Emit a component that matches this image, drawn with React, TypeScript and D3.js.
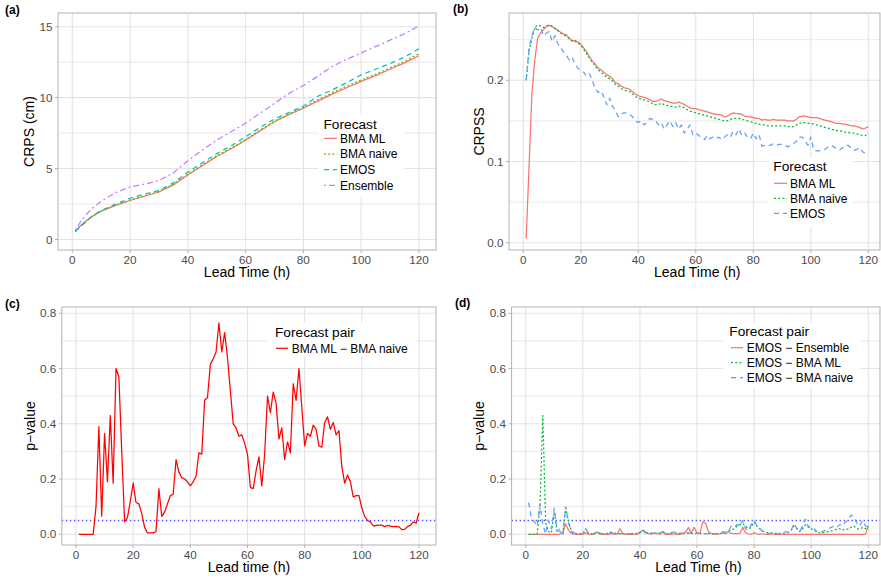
import * as React from 'react';
import * as d3 from 'd3';

// lead times (hours)
const hours = d3.range(1, 121);
const hoursA = [1, 2, 3, 5, 7, 10, 15, 20, 25, 30, 35, 40, 45, 50, 55, 60, 65, 70, 75, 80, 85, 90, 95, 100, 105, 110, 115, 120];

// (a) CRPS (cm)
const crpsBmaMl = [0.6, 0.8, 1.0, 1.35, 1.65, 2.0, 2.4, 2.75, 3.05, 3.35, 3.85, 4.55, 5.2, 5.85, 6.4, 7.0, 7.65, 8.3, 8.8, 9.25, 9.75, 10.25, 10.7, 11.15, 11.55, 12.0, 12.45, 12.95];
const crpsBmaNaive = [0.55, 0.75, 0.95, 1.3, 1.65, 2.0, 2.42, 2.78, 3.08, 3.38, 3.9, 4.6, 5.25, 5.9, 6.45, 7.05, 7.7, 8.35, 8.85, 9.3, 9.85, 10.35, 10.8, 11.25, 11.65, 12.1, 12.55, 13.1];
const crpsEmos = [0.55, 0.75, 0.95, 1.3, 1.65, 2.05, 2.5, 2.9, 3.2, 3.45, 4.0, 4.75, 5.4, 6.05, 6.6, 7.25, 7.9, 8.5, 8.95, 9.4, 10.1, 10.55, 11.05, 11.6, 12.0, 12.4, 12.85, 13.45];
const crpsEnsemble = [0.65, 0.95, 1.3, 1.8, 2.2, 2.7, 3.3, 3.7, 3.9, 4.15, 4.7, 5.55, 6.3, 7.0, 7.6, 8.2, 8.9, 9.6, 10.3, 10.85, 11.5, 12.2, 12.7, 13.15, 13.6, 14.05, 14.5, 15.05];

// (b) CRPSS
const crpssBmaMl = [
  0.005, 0.094, 0.184, 0.225, 0.252, 0.258, 0.262, 0.266, 0.268, 0.266,
  0.264, 0.262, 0.259, 0.257, 0.256, 0.252, 0.249, 0.249, 0.247, 0.245,
  0.240, 0.235, 0.229, 0.224, 0.220, 0.215, 0.213, 0.210, 0.207, 0.205,
  0.202, 0.197, 0.196, 0.193, 0.191, 0.190, 0.189, 0.186, 0.183, 0.181,
  0.180, 0.179, 0.178, 0.176, 0.174, 0.174, 0.175, 0.177, 0.175, 0.174,
  0.173, 0.172, 0.172, 0.173, 0.172, 0.170, 0.168, 0.166, 0.165, 0.165,
  0.164, 0.163, 0.162, 0.161, 0.160, 0.159, 0.158, 0.158, 0.157, 0.155,
  0.156, 0.158, 0.160, 0.159, 0.159, 0.158, 0.156, 0.155, 0.155, 0.154,
  0.153, 0.153, 0.151, 0.152, 0.151, 0.151, 0.152, 0.151, 0.151, 0.151,
  0.151, 0.150, 0.150, 0.150, 0.152, 0.155, 0.156, 0.156, 0.155, 0.154,
  0.154, 0.154, 0.153, 0.152, 0.151, 0.150, 0.149, 0.148, 0.147, 0.147,
  0.146, 0.146, 0.145, 0.144, 0.144, 0.143, 0.142, 0.140, 0.141, 0.143,
];
const crpssBmaNaive = [
  0.200, 0.235, 0.252, 0.265, 0.268, 0.267, 0.265, 0.267, 0.268, 0.267,
  0.264, 0.261, 0.258, 0.256, 0.254, 0.251, 0.248, 0.248, 0.246, 0.243,
  0.238, 0.233, 0.227, 0.222, 0.218, 0.213, 0.210, 0.207, 0.204, 0.202,
  0.199, 0.195, 0.193, 0.190, 0.188, 0.187, 0.186, 0.183, 0.180, 0.178,
  0.177, 0.176, 0.175, 0.173, 0.171, 0.170, 0.170, 0.172, 0.170, 0.169,
  0.168, 0.168, 0.167, 0.168, 0.168, 0.166, 0.164, 0.162, 0.161, 0.160,
  0.159, 0.158, 0.157, 0.156, 0.155, 0.154, 0.153, 0.152, 0.151, 0.150,
  0.150, 0.152, 0.153, 0.153, 0.153, 0.152, 0.151, 0.150, 0.149, 0.148,
  0.147, 0.146, 0.145, 0.145, 0.144, 0.144, 0.144, 0.144, 0.144, 0.144,
  0.144, 0.143, 0.143, 0.143, 0.145, 0.147, 0.148, 0.148, 0.147, 0.147,
  0.146, 0.145, 0.144, 0.143, 0.142, 0.141, 0.140, 0.139, 0.138, 0.138,
  0.137, 0.136, 0.136, 0.135, 0.135, 0.134, 0.133, 0.132, 0.132, 0.135,
];
const crpssEmos = [
  0.200, 0.240, 0.255, 0.265, 0.262, 0.265, 0.255, 0.258, 0.260, 0.248,
  0.255, 0.245, 0.240, 0.235, 0.230, 0.225, 0.228, 0.220, 0.215, 0.212,
  0.210, 0.205, 0.208, 0.200, 0.190, 0.185, 0.187, 0.180, 0.170, 0.178,
  0.168, 0.163, 0.155, 0.158, 0.160, 0.160, 0.158, 0.155, 0.150, 0.148,
  0.150, 0.145, 0.148, 0.153, 0.152, 0.150, 0.145, 0.148, 0.140, 0.145,
  0.150, 0.143, 0.148, 0.140, 0.145, 0.135, 0.140, 0.145, 0.133, 0.135,
  0.132, 0.130, 0.127, 0.132, 0.128, 0.130, 0.128, 0.130, 0.127, 0.130,
  0.133, 0.130, 0.137, 0.133, 0.140, 0.132, 0.135, 0.130, 0.128, 0.135,
  0.128, 0.133, 0.119, 0.120, 0.120, 0.120, 0.122, 0.120, 0.121, 0.121,
  0.120, 0.118, 0.120, 0.122, 0.125, 0.130, 0.130, 0.125, 0.120, 0.130,
  0.115, 0.113, 0.113, 0.114, 0.115, 0.118, 0.120, 0.118, 0.116, 0.114,
  0.117, 0.120, 0.120, 0.116, 0.114, 0.115, 0.117, 0.112, 0.110, 0.108,
];

// (c) p-values BMA ML - BMA naive
const pMlNaive = [
  0, 0, 0, 0, 0, 0, 0.1, 0.39, 0.065, 0.365,
  0.19, 0.43, 0.185, 0.60, 0.57, 0.30, 0.045, 0.06, 0.12, 0.185,
  0.115, 0.11, 0.075, 0.025, 0.005, 0.005, 0.005, 0.01, 0.165, 0.065,
  0.08, 0.11, 0.14, 0.145, 0.27, 0.225, 0.205, 0.2, 0.19, 0.175,
  0.19, 0.21, 0.295, 0.29, 0.485, 0.495, 0.615, 0.635, 0.66, 0.765,
  0.66, 0.73, 0.64, 0.52, 0.40, 0.385, 0.355, 0.36, 0.33, 0.29,
  0.17, 0.165, 0.23, 0.28, 0.175, 0.29, 0.50, 0.44, 0.515, 0.475,
  0.345, 0.385, 0.27, 0.335, 0.295, 0.545, 0.485, 0.60, 0.46, 0.32,
  0.365, 0.355, 0.395, 0.38, 0.32, 0.315, 0.405, 0.425, 0.38, 0.405,
  0.36, 0.375, 0.245, 0.185, 0.215, 0.19, 0.135, 0.14, 0.14, 0.095,
  0.065, 0.05, 0.045, 0.03, 0.032, 0.033, 0.033, 0.028, 0.032, 0.03,
  0.028, 0.029, 0.027, 0.017, 0.018, 0.028, 0.033, 0.045, 0.04, 0.078,
];

// (d) p-values
const pEmosEnsemble = [
  0, 0, 0, 0, 0, 0, 0, 0, 0, 0,
  0, 0, 0.005, 0.038, 0.015, 0.003, 0, 0, 0, 0,
  0.005, 0, 0, 0, 0.008, 0, 0, 0, 0, 0.003,
  0, 0, 0.02, 0.002, 0, 0, 0, 0, 0, 0.005,
  0.015, 0.008, 0.002, 0, 0.005, 0.002, 0, 0.008, 0, 0,
  0, 0.002, 0, 0, 0.003, 0.008, 0.025, 0.005, 0.025, 0.005,
  0.003, 0.045, 0.04, 0.01, 0.002, 0, 0, 0.002, 0.005, 0.002,
  0.01, 0.003, 0.002, 0.002, 0.003, 0.025, 0.005, 0.002, 0, 0.005,
  0.002, 0, 0.002, 0, 0, 0.002, 0, 0, 0, 0,
  0, 0, 0, 0, 0, 0, 0, 0, 0, 0,
  0, 0, 0, 0, 0, 0, 0, 0, 0, 0,
  0, 0, 0, 0, 0, 0, 0, 0, 0, 0.03,
];
const pEmosBmaMl = [
  0, 0, 0, 0, 0.1, 0.43, 0.04, 0.01, 0.005, 0.08,
  0.01, 0.01, 0.002, 0.095, 0.05, 0.01, 0.005, 0.002, 0.002, 0.002,
  0.02, 0.003, 0.002, 0.002, 0.01, 0.003, 0.002, 0.002, 0.005, 0.008,
  0.005, 0.002, 0.002, 0.002, 0.002, 0.002, 0.002, 0.002, 0.003, 0.008,
  0.015, 0.008, 0.005, 0.005, 0.003, 0.003, 0.005, 0.008, 0.003, 0.002,
  0.005, 0.008, 0.002, 0.002, 0.002, 0.003, 0.005, 0.003, 0.002, 0.003,
  0.002, 0.002, 0.002, 0.002, 0.002, 0.002, 0.002, 0.003, 0.005, 0.008,
  0.012, 0.015, 0.02, 0.03, 0.035, 0.04, 0.03, 0.02, 0.025, 0.045,
  0.03, 0.02, 0.012, 0.008, 0.005, 0.005, 0.003, 0.003, 0.002, 0.003,
  0.005, 0.008, 0.015, 0.03, 0.02, 0.01, 0.02, 0.035, 0.03, 0.02,
  0.015, 0.008, 0.005, 0.005, 0.008, 0.01, 0.012, 0.015, 0.018, 0.02,
  0.015, 0.02, 0.018, 0.025, 0.03, 0.02, 0.018, 0.025, 0.02, 0.03,
];
const pEmosBmaNaive = [
  0.115, 0.06, 0.045, 0.03, 0.11, 0.035, 0.002, 0.05, 0.02, 0.095,
  0.01, 0.02, 0.002, 0.1, 0.04, 0.01, 0.005, 0.005, 0.003, 0.002,
  0.02, 0.003, 0.002, 0.002, 0.01, 0.005, 0.002, 0.002, 0.003, 0.005,
  0.003, 0.002, 0.002, 0.002, 0.002, 0.002, 0.002, 0.002, 0.003, 0.005,
  0.01, 0.005, 0.003, 0.005, 0.003, 0.003, 0.005, 0.01, 0.003, 0.002,
  0.005, 0.01, 0.003, 0.003, 0.005, 0.003, 0.005, 0.003, 0.002, 0.005,
  0.003, 0.002, 0.002, 0.003, 0.005, 0.002, 0.003, 0.005, 0.01, 0.005,
  0.01, 0.03, 0.025, 0.035, 0.03, 0.05, 0.02, 0.015, 0.035, 0.05,
  0.03, 0.02, 0.01, 0.005, 0.003, 0.002, 0.002, 0.002, 0.003, 0.005,
  0.01, 0.005, 0.015, 0.04, 0.02, 0.01, 0.03, 0.055, 0.025, 0.025,
  0.02, 0.01, 0.005, 0.01, 0.015, 0.02, 0.025, 0.03, 0.025, 0.035,
  0.03, 0.045, 0.05, 0.07, 0.06, 0.04, 0.03, 0.05, 0.03, 0.025,
];

const xTicks = [0, 20, 40, 60, 80, 100, 120];
const FONT = '"Liberation Sans", Arial, Helvetica, sans-serif';
const GRID = '#E3E3E3';
const BORDER = '#B3B3B3';

// ggplot line types
const DOTTED = '2 2.2';
const DASHED = '5 4';
const DOTDASH = '2 3 6 3';

type Line = { name: string; x: number[]; y: number[]; color: string; dash?: string };
type Legend = {
  x: number; y: number; w: number; h: number; title: string;
  titleX: number; titleY: number; firstY: number; step: number;
  keyX: number; keyW: number; textX: number;
};

type PanelProps = {
  tag: string; tagX: number; tagY: number;
  x0: number; x120: number; top: number; bottom: number;
  yDomain: number[]; yRange: number[];
  yMajor: number[]; yMinor: number[]; fmt: (v: number) => string;
  yTitle: string; yTitleX: number; xTitle: string;
  lines: Line[]; legend: Legend; refLine?: number;
};

function Panel(p: PanelProps) {
  const x = d3.scaleLinear().domain([0, 120]).range([p.x0, p.x120]);
  const y = d3.scaleLinear().domain(p.yDomain).range(p.yRange);
  const left = x(-4.95);
  const fullRight = x(125.95);
  const right = Math.min(fullRight, 880);
  const cx = (left + fullRight) / 2;
  const cy = (p.top + p.bottom) / 2;
  const lg = p.legend;

  const path = (l: Line) =>
    d3.line<number>().x((_, i) => x(l.x[i])).y(v => y(v))(l.y) || '';

  return (
    <g fontFamily={FONT}>
      <text x={p.tagX} y={p.tagY} fontSize={12} fontWeight="bold">{p.tag}</text>
      {p.yMinor.map(v => (
        <line key={'mi' + v} x1={left} x2={right} y1={y(v)} y2={y(v)} stroke={GRID} strokeWidth={0.8} />
      ))}
      {p.yMajor.map(v => (
        <line key={'ma' + v} x1={left} x2={right} y1={y(v)} y2={y(v)} stroke={GRID} strokeWidth={1.1} />
      ))}
      {xTicks.map(v => (
        <line key={'xv' + v} x1={x(v)} x2={x(v)} y1={p.top} y2={p.bottom} stroke={GRID} strokeWidth={1.1} />
      ))}
      {p.refLine !== undefined && (
        <line x1={left} x2={right} y1={y(p.refLine)} y2={y(p.refLine)}
          stroke="#5050FF" strokeWidth={1.3} strokeDasharray="1.4 2.6" />
      )}
      {p.lines.map(l => (
        <path key={l.name} d={path(l)} fill="none" stroke={l.color} strokeWidth={1.25}
          strokeDasharray={l.dash} strokeLinejoin="round" />
      ))}
      <rect x={left} y={p.top} width={right - left} height={p.bottom - p.top}
        fill="none" stroke={BORDER} strokeWidth={1} />
      {xTicks.map(v => (
        <g key={'xt' + v}>
          <line x1={x(v)} x2={x(v)} y1={p.bottom} y2={p.bottom + 3} stroke={BORDER} />
          <text x={x(v)} y={p.bottom + 13.5} textAnchor="middle" fontSize={11.7} fill="#4D4D4D">{v}</text>
        </g>
      ))}
      {p.yMajor.map(v => (
        <g key={'yt' + v}>
          <line x1={left - 3} x2={left} y1={y(v)} y2={y(v)} stroke={BORDER} />
          <text x={left - 5.5} y={y(v)} dy="0.35em" textAnchor="end" fontSize={11.7} fill="#4D4D4D">{p.fmt(v)}</text>
        </g>
      ))}
      <text x={cx} y={p.bottom + 27} textAnchor="middle" fontSize={14}>{p.xTitle}</text>
      <text transform={`translate(${p.yTitleX},${cy}) rotate(-90)`} dy="0.35em" textAnchor="middle" fontSize={14}>{p.yTitle}</text>

      <rect x={lg.x} y={lg.y} width={lg.w} height={lg.h} fill="white" />
      <text x={lg.titleX} y={lg.titleY} dy="0.35em" fontSize={13.7}>{lg.title}</text>
      {p.lines.map((l, i) => {
        const ly = lg.firstY + i * lg.step;
        return (
          <g key={'lg' + l.name}>
            <line x1={lg.keyX} x2={lg.keyX + lg.keyW} y1={ly} y2={ly} stroke={l.color}
              strokeWidth={1.25} strokeDasharray={l.dash} />
            <text x={lg.textX} y={ly} dy="0.35em" fontSize={12}>{l.name}</text>
          </g>
        );
      })}
    </g>
  );
}

const f1 = d3.format('.1f');

export default function App() {
  return (
    <svg width={881} height={579} style={{ position: 'absolute', left: 0, top: 0, background: 'white' }}>
      <Panel
        tag="(a)" tagX={5} tagY={14}
        x0={72.3} x120={418.9} top={13} bottom={250}
        yDomain={[0, 15]} yRange={[239.5, 26.7]}
        yMajor={[0, 5, 10, 15]} yMinor={[2.5, 7.5, 12.5]} fmt={v => String(v)}
        yTitle="CRPS (cm)" yTitleX={29.5} xTitle="Lead Time (h)"
        lines={[
          { name: 'BMA ML', x: hoursA, y: crpsBmaMl, color: '#F8766D' },
          { name: 'BMA naive', x: hoursA, y: crpsBmaNaive, color: '#7CAE00', dash: DOTTED },
          { name: 'EMOS', x: hoursA, y: crpsEmos, color: '#00BFC4', dash: DASHED },
          { name: 'Ensemble', x: hoursA, y: crpsEnsemble, color: '#C77CFF', dash: DOTDASH },
        ]}
        legend={{ x: 318, y: 115, w: 86, h: 82, title: 'Forecast', titleX: 323.5, titleY: 124,
          firstY: 138.3, step: 15.7, keyX: 324, keyW: 13, textX: 340 }}
      />
      <Panel
        tag="(b)" tagX={453} tagY={13}
        x0={523.3} x120={868.3} top={13} bottom={250}
        yDomain={[0, 0.2]} yRange={[242.7, 80.3]}
        yMajor={[0, 0.1, 0.2]} yMinor={[0.05, 0.15, 0.25]} fmt={f1}
        yTitle="CRPSS" yTitleX={479.3} xTitle="Lead Time (h)"
        lines={[
          { name: 'BMA ML', x: hours, y: crpssBmaMl, color: '#F8766D' },
          { name: 'BMA naive', x: hours, y: crpssBmaNaive, color: '#00BA38', dash: DOTTED },
          { name: 'EMOS', x: hours, y: crpssEmos, color: '#619CFF', dash: DASHED },
        ]}
        legend={{ x: 767, y: 158, w: 86, h: 69, title: 'Forecast', titleX: 773.3, titleY: 166.7,
          firstY: 183.3, step: 15, keyX: 774, keyW: 13, textX: 790 }}
      />
      <Panel
        tag="(c)" tagX={5} tagY={308}
        x0={76} x120={419} top={307} bottom={545}
        yDomain={[0, 0.8]} yRange={[534.3, 313.3]}
        yMajor={[0, 0.2, 0.4, 0.6, 0.8]} yMinor={[0.1, 0.3, 0.5, 0.7]} fmt={f1}
        yTitle="p−value" yTitleX={30} xTitle="Lead time (h)"
        refLine={0.05}
        lines={[
          { name: 'BMA ML − BMA naive', x: hours, y: pMlNaive, color: '#FF0000' },
        ]}
        legend={{ x: 268, y: 323, w: 147, h: 33, title: 'Forecast pair', titleX: 275, titleY: 332.7,
          firstY: 348.3, step: 15, keyX: 276, keyW: 12, textX: 291.7 }}
      />
      <Panel
        tag="(d)" tagX={455} tagY={307}
        x0={525.7} x120={868.3} top={307} bottom={545}
        yDomain={[0, 0.8]} yRange={[534.3, 313.3]}
        yMajor={[0, 0.2, 0.4, 0.6, 0.8]} yMinor={[0.1, 0.3, 0.5, 0.7]} fmt={f1}
        yTitle="p−value" yTitleX={479.3} xTitle="Lead Time (h)"
        refLine={0.05}
        lines={[
          { name: 'EMOS − Ensemble', x: hours, y: pEmosEnsemble, color: '#F8766D' },
          { name: 'EMOS − BMA ML', x: hours, y: pEmosBmaMl, color: '#00BA38', dash: DOTTED },
          { name: 'EMOS − BMA naive', x: hours, y: pEmosBmaNaive, color: '#619CFF', dash: DASHED },
        ]}
        legend={{ x: 723, y: 323, w: 137, h: 65, title: 'Forecast pair', titleX: 729.3, titleY: 331.7,
          firstY: 347.7, step: 15, keyX: 731, keyW: 12, textX: 746.7 }}
      />
    </svg>
  );
}
